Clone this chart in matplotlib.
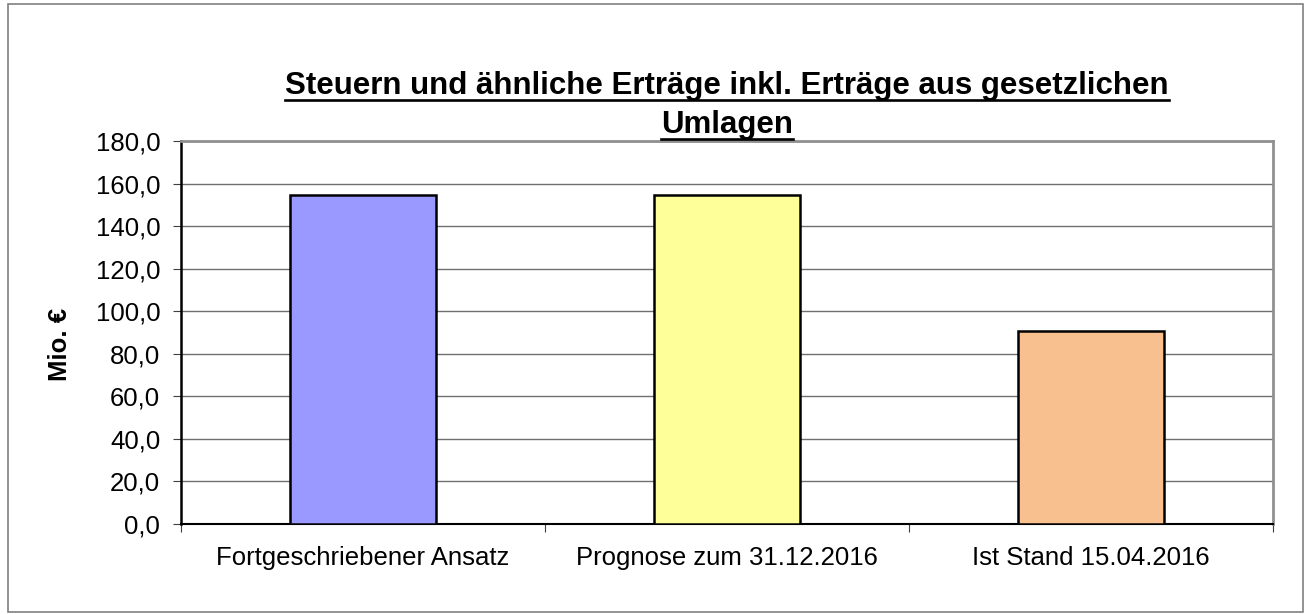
import matplotlib
matplotlib.use('Agg')
import matplotlib.pyplot as plt
from matplotlib.ticker import FuncFormatter
from matplotlib.lines import Line2D
from matplotlib.patches import Rectangle

categories = ['Fortgeschriebener Ansatz', 'Prognose zum 31.12.2016', 'Ist Stand 15.04.2016']
values = [154.6, 154.6, 91.0]
colors = ['#9999FF', '#FFFF99', '#F9C08F']
title_lines = ['Steuern und ähnliche Erträge inkl. Erträge aus gesetzlichen', 'Umlagen']
ylabel = 'Mio. €'

plt.rcParams['font.family'] = ['Liberation Sans', 'DejaVu Sans']

W, H = 1309, 614
fig = plt.figure(figsize=(W / 100, H / 100), dpi=100)
ax = fig.add_axes([181 / W, 1 - 524 / H, (1273 - 181) / W, (524 - 141.3) / H])

x = range(len(categories))
ax.bar(x, values, width=0.4, color=colors, edgecolor='black', linewidth=1.8, zorder=3)

ax.set_xlim(-0.5, 2.5)
ax.set_ylim(0, 180)
ax.set_yticks(range(0, 181, 20))
ax.yaxis.set_major_formatter(FuncFormatter(lambda v, p: f'{v:.1f}'.replace('.', ',')))
ax.yaxis.grid(True, color='#707070', linewidth=1.0, zorder=0)

ax.set_xticks([-0.5, 0.5, 1.5, 2.5])
ax.set_xticklabels([])
ax.set_xticks(list(x), minor=True)
ax.set_xticklabels(categories, minor=True)
ax.tick_params(axis='x', which='minor', length=0, labelsize=18.5, pad=16)
ax.tick_params(axis='x', which='major', length=6, color='#404040')
ax.tick_params(axis='y', length=6, color='#404040', labelsize=18.5, pad=9)

ax.spines['left'].set_linewidth(1.8)
ax.spines['bottom'].set_linewidth(1.5)
ax.spines['top'].set_color('#909090')
ax.spines['top'].set_linewidth(2)
ax.spines['right'].set_color('#909090')
ax.spines['right'].set_linewidth(2)

fig.text(60 / W, 1 - 344 / H, ylabel, rotation=90, fontsize=18.5, fontweight='bold',
         ha='center', va='center')

# title with underline, two lines
baselines = [94, 133]
texts = []
for line, yb in zip(title_lines, baselines):
    t = fig.text(727 / W, 1 - yb / H, line, fontsize=22.5, fontweight='bold',
                 ha='center', va='baseline')
    texts.append((t, yb))

fig.canvas.draw()
renderer = fig.canvas.get_renderer()
for t, yb in texts:
    bb = t.get_window_extent(renderer)
    yu = 1 - (yb + 5.5) / H
    fig.add_artist(Line2D([bb.x0 / W, bb.x1 / W], [yu, yu], color='black',
                          linewidth=1.9, transform=fig.transFigure))

# outer chart border
fig.add_artist(Rectangle((8 / W, 1 - 612 / H), (1303 - 8) / W, (612 - 4) / H,
                         transform=fig.transFigure, fill=False,
                         edgecolor='#808080', linewidth=1.2))

fig.savefig('out.png', dpi=100)
